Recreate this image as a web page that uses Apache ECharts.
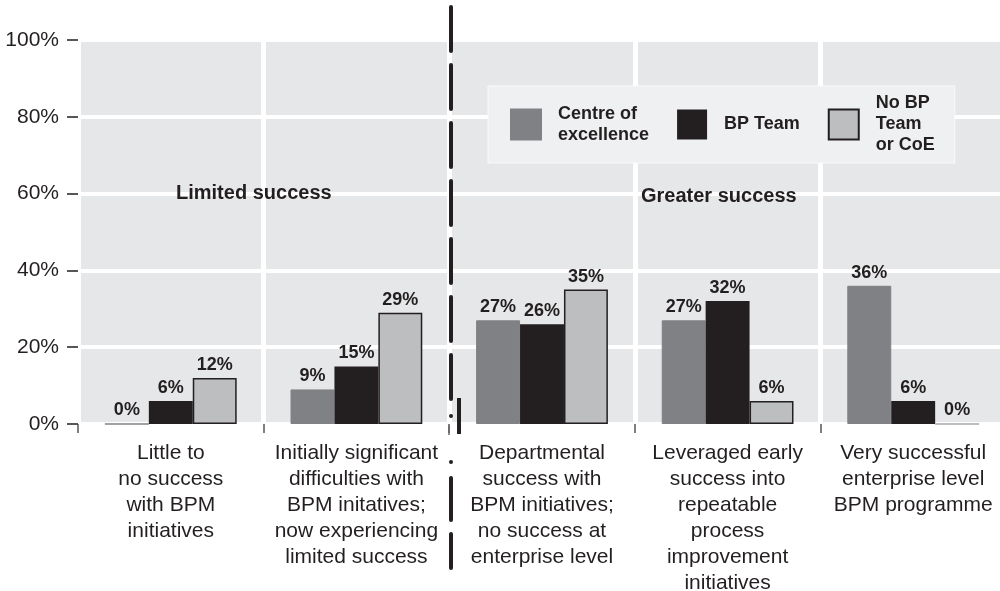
<!DOCTYPE html>
<html>
<head>
<meta charset="utf-8">
<script src="https://cdn.jsdelivr.net/npm/echarts@6/dist/echarts.min.js"></script>
<style>
  html,body{margin:0;padding:0;background:#fff;}
  #main{width:1000px;height:591px;}
</style>
</head>
<body>
<div id="main"></div>
<script>
// categories along the x axis
var categories=[
    'Little to\nno success\nwith BPM\ninitiatives',
    'Initially significant\ndifficulties with\nBPM initatives;\nnow experiencing\nlimited success',
    'Departmental\nsuccess with\nBPM initiatives;\nno success at\nenterprise level',
    'Leveraged early\nsuccess into\nrepeatable\nprocess\nimprovement\ninitiatives',
    'Very successful\nenterprise level\nBPM programme'
];
var seriesNames=['Centre of\nexcellence','BP Team','No BP\nTeam\nor CoE'];
var centreData=[0,9,27,27,36];
var teamData=[6,15,26,32,6];
var noTeamData=[12,29,35,6,0];
var yTicks=[0,20,40,60,80,100];
var zoneLabels=['Limited success','Greater success'];

var font='"Liberation Sans", Arial, sans-serif';
var ink='#231f20';

var chart=echarts.init(document.getElementById('main'));

function barLabel(){
    return {
        show:true,
        position:'top',
        distance:4,
        formatter:'{c}%',
        fontFamily:font,
        fontWeight:'bold',
        fontSize:18,
        color:ink
    };
}

// zero bars are drawn as a thin light line, not with the dark edge
var noTeamItems=noTeamData.map(function(v){
    return v===0 ? {value:v,itemStyle:{borderColor:'#a7a9ac',borderWidth:1}} : v;
});

var option={
    animation:false,
    backgroundColor:'#fff',
    textStyle:{fontFamily:font},
    grid:{
        left:78,
        top:40,
        width:928,
        bottom:167,
        outerBoundsMode:'none',
        containLabel:false,
        show:true,
        backgroundColor:'#e6e7e8',
        borderWidth:0
    },
    legend:{
        data:seriesNames,
        left:488,
        top:86,
        orient:'horizontal',
        backgroundColor:'#eff0f1',
        borderColor:'#fafafa',
        borderWidth:1,
        padding:[7,20,7,22],
        itemWidth:30,
        itemHeight:30,
        itemGap:28,
        icon:'rect',
        textStyle:{
            fontFamily:font,
            fontWeight:'bold',
            fontSize:18,
            lineHeight:21,
            color:ink,
            padding:[0,0,0,12]
        }
    },
    xAxis:{
        type:'category',
        data:categories,
        axisLine:{show:false},
        axisTick:{show:true,length:9,lineStyle:{color:'#555',width:1.5}},
        axisLabel:{
            interval:0,
            margin:16,
            fontFamily:font,
            fontSize:21,
            lineHeight:26,
            color:ink
        },
        splitLine:{show:true,interval:0,lineStyle:{color:'#fff',width:5}}
    },
    yAxis:{
        type:'value',
        min:yTicks[0],
        max:yTicks[yTicks.length-1],
        interval:20,
        axisLine:{show:false},
        axisTick:{show:true,length:11,lineStyle:{color:ink,width:1.5}},
        axisLabel:{
            margin:19,
            formatter:'{value}%',
            fontFamily:font,
            fontSize:21,
            color:ink
        },
        splitLine:{show:true,lineStyle:{color:'#fff',width:4}}
    },
    series:[
        {
            name:seriesNames[0],
            type:'bar',
            data:centreData,
            barGap:'0%',
            barCategoryGap:'29%',
            itemStyle:{color:'#808184',borderColor:'#808184',borderWidth:1},
            label:barLabel()
        },
        {
            name:seriesNames[1],
            type:'bar',
            data:teamData,
            itemStyle:{color:ink},
            label:barLabel()
        },
        {
            name:seriesNames[2],
            type:'bar',
            data:noTeamItems,
            itemStyle:{color:'#bcbec0',borderColor:ink,borderWidth:1.5},
            label:barLabel()
        }
    ],
    graphic:[
        //分区说明
        {type:'text',left:176,top:183,z:10,style:{text:zoneLabels[0],font:'bold 20px '+font,fill:ink}},
        {type:'text',left:641,top:186,z:10,style:{text:zoneLabels[1],font:'bold 20px '+font,fill:ink}},
        //分隔虚线
        {type:'line',z:20,shape:{x1:451,y1:7,x2:451,y2:400},
            style:{stroke:ink,lineWidth:4,lineCap:'round',lineDash:[44,14]}},
        {type:'circle',z:20,shape:{cx:451,cy:416,r:2},style:{fill:ink}},
        {type:'line',z:20,shape:{x1:449,y1:426,x2:449,y2:435},style:{stroke:'#666',lineWidth:1.5}},
        {type:'line',z:20,shape:{x1:459,y1:398,x2:459,y2:434},style:{stroke:ink,lineWidth:4}},
        {type:'circle',z:20,shape:{cx:451,cy:462,r:2},style:{fill:ink}},
        {type:'line',z:20,shape:{x1:451,y1:478,x2:451,y2:568},
            style:{stroke:ink,lineWidth:4,lineCap:'round',lineDash:[42,14]}}
    ]
};

chart.setOption(option);
</script>
</body>
</html>
